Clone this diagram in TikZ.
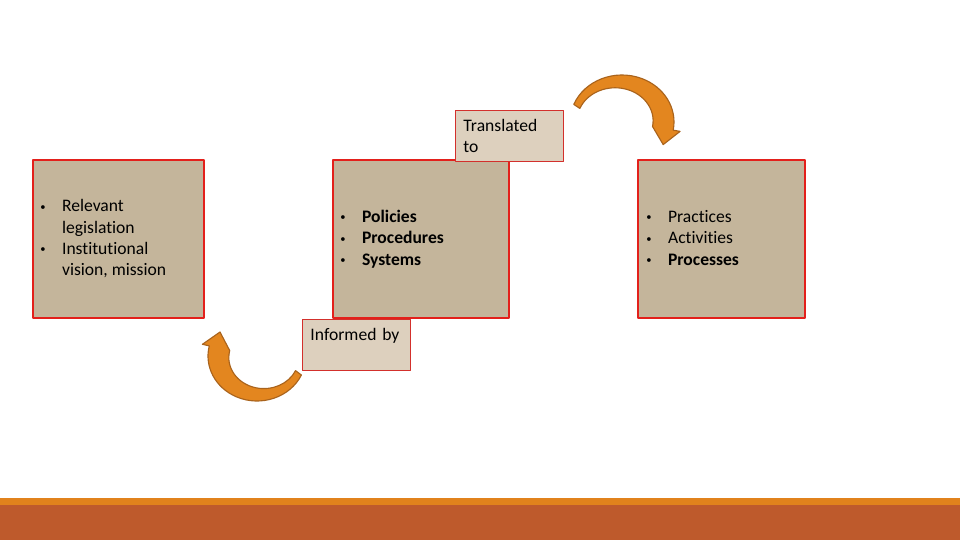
\documentclass[tikz,border=0pt]{standalone}
\usepackage{fontspec}
\usepackage{graphicx}
\setmainfont{Carlito}[Ligatures=NoCommon]
\usetikzlibrary{fit}
\definecolor{boxtan}{HTML}{C4B59B}
\definecolor{labeltan}{HTML}{DDD0BE}
\definecolor{boxred}{HTML}{E3201B}
\definecolor{tagred}{HTML}{D3302C}
\definecolor{arroworange}{HTML}{E3861F}
\definecolor{arrowedge}{HTML}{A9631C}
\definecolor{barorange}{HTML}{E1821C}
\definecolor{barrust}{HTML}{BE5A2C}
\newcommand{\listdot}{\raisebox{0.2ex}{\scalebox{0.6}{•}}}
\begin{document}
\begin{tikzpicture}[x=0.025cm,y=0.025cm,line join=round]
			\tikzset{bigbox/.style={draw=boxred,line width=1.4pt,fill=boxtan,inner sep=0pt},
				tagbox/.style={draw=tagred,line width=0.7pt,fill=labeltan,anchor=north west,text width=2.3cm,inner xsep=0.2cm,inner ysep=0pt,minimum height=1.275cm,align=left,font=\fontsize{12.5}{15.4}\selectfont},
				listtext/.style={anchor=west,inner sep=0pt,align=left,font=\fontsize{12.5}{15.2}\selectfont},
				bendarrow/.style={fill=arroworange,draw=arrowedge,line width=0.8pt}}
			\useasboundingbox (0,0) rectangle (960,540);
			\fill[barrust] (0,0) rectangle (960,35);
			\fill[barorange] (0,35) rectangle (960,42);
			\node[bigbox,fit={(33,222) (204,380)}] (source) {};
			\node[bigbox,fit={(333,222) (509,380)}] (policy) {};
			\node[bigbox,fit={(638,222) (805,380)}] (practice) {};
			\node[listtext] (sourcelist) at (40,300.5) {\begin{tabular}{@{}p{15.5pt}@{}l@{}}
					\listdot & Relevant\\ & legislation\\ \listdot & Institutional\\ & vision, mission\end{tabular}};
			\node[listtext] (policylist) at (340,300.5) {\begin{tabular}{@{}p{15.5pt}@{}l@{}}
					\listdot & \textbf{Policies}\\ \listdot & \textbf{Procedures}\\ \listdot & \textbf{Systems}\end{tabular}};
			\node[listtext] (practicelist) at (646,300.5) {\begin{tabular}{@{}p{15.5pt}@{}l@{}}
					\listdot & Practices\\ \listdot & Activities\\ \listdot & \textbf{Processes}\end{tabular}};
			\node[tagbox] (translated) at (455,430) {Translated\\to};
			\node[tagbox] (informed) at (302,221) {Informed by\\\mbox{}};
			\begin{scope}[shift={(622,418)}]
				\filldraw[bendarrow] (158:52 and 47) arc[start angle=158,end angle=-10,x radius=52,y radius=47] -- (-10:59 and 54) -- (41.2,-22.6) -- (-10:31 and 26) arc[start angle=-10,end angle=158,x radius=38,y radius=33] -- cycle;
			\end{scope}
			\begin{scope}[shift={(257,184)}]
				\filldraw[bendarrow] (-25:49 and 45) arc[start angle=-25,end angle=-193,x radius=49,y radius=45] -- (-193:56 and 52) -- (-37,24) -- (-193:28 and 24) arc[start angle=-193,end angle=-25,x radius=35,y radius=31] -- cycle;
			\end{scope}
		\end{tikzpicture}
\end{document}
